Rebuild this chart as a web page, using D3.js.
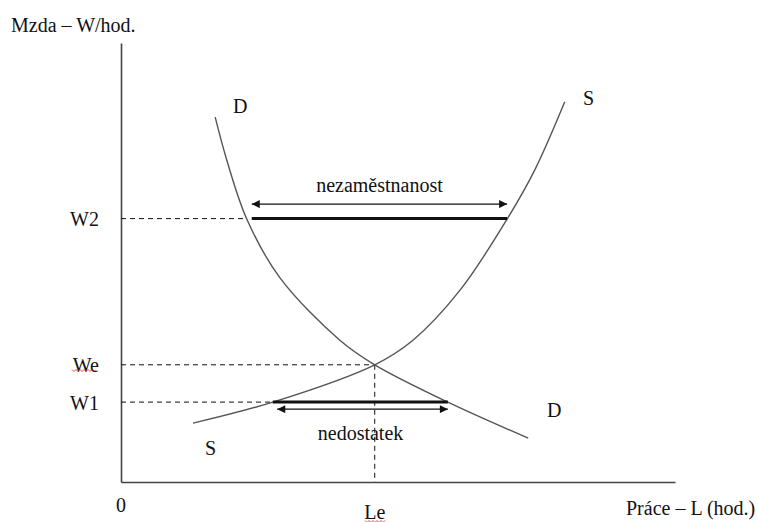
<!DOCTYPE html>
<html lang="cs">
  <head>
    <meta charset="UTF-8" />
    <title>Trh práce – minimální mzda</title>
    <script src="https://d3js.org/d3.v7.min.js"></script>
    <style>
      body {
        margin: 0;
        background: #fff;
      }
      #chart svg {
        display: block;
      }
    </style>
  </head>
  <body>
    <div id="chart"></div>

    <script>
      // Données (unités arbitraires 0–100)
      const wageNames = ["W2", "We", "W1"];
      const wageLevels = [60, 26.7, 18.2];
      const laborName = "Le";
      const laborEq = 45.8;

      // Courbe de demande D
      const demandL = [17.0, 19.1, 22.7, 28.7, 39.5, 45.8, 59.0, 73.5];
      const demandW = [83.1, 73.3, 59.9, 46.5, 32.3, 26.7, 18.2, 10.0];

      // Courbe d'offre S
      const supplyL = [13.0, 27.4, 45.8, 52.7, 61.2, 69.7, 74.7, 80.1];
      const supplyW = [13.4, 18.2, 26.7, 32.3, 43.7, 59.9, 71.1, 86.6];

      // Écarts : [début, fin] sur l'axe L
      const unemploymentGap = [23.6, 69.7]; // à W2
      const unemploymentArrow = [23.6, 69.7];
      const unemploymentArrowW = 63.3;
      const shortageGap = [27.4, 59.0]; // à W1
      const shortageArrow = [28.2, 59.0];
      const shortageArrowW = 16.6;
      // fin des pointillés horizontaux (là où ils touchent la courbe)
      const dashEnds = [22.7, 45.8, 27.4];

      const width = 758,
        height = 522;
      const fontFamily = '"Liberation Serif", "DejaVu Serif", "Times New Roman", serif';
      const fontSize = 20;

      const svg = d3
        .select("#chart")
        .append("svg")
        .attr("width", width)
        .attr("height", height)
        .attr("font-family", fontFamily)
        .attr("font-size", fontSize);

      const x = d3.scaleLinear().domain([0, 100]).range([121, 675]);
      const y = d3.scaleLinear().domain([0, 100]).range([482, 43]);

      // Flèches
      const defs = svg.append("defs");
      ["start", "end"].forEach((k) => {
        defs
          .append("marker")
          .attr("id", "arrow-" + k)
          .attr("viewBox", "0 0 10 10")
          .attr("refX", k === "end" ? 10 : 0)
          .attr("refY", 5)
          .attr("markerWidth", 9)
          .attr("markerHeight", 8)
          .attr("markerUnits", "userSpaceOnUse")
          .attr("orient", "auto")
          .append("path")
          .attr("d", k === "end" ? "M0,0L10,5L0,10Z" : "M10,0L0,5L10,10Z")
          .attr("fill", "#111");
      });

      // Axes (sans graduations)
      svg
        .append("g")
        .attr("transform", `translate(0,${y(0)})`)
        .call(d3.axisBottom(x).tickValues([]).tickSizeOuter(0))
        .select(".domain")
        .attr("stroke", "#444")
        .attr("stroke-width", 1.6);

      const yAxis = svg
        .append("g")
        .attr("transform", `translate(${x(0)},0)`)
        .call(
          d3
            .axisLeft(y)
            .tickValues(wageLevels)
            .tickFormat((d, i) => wageNames[i])
            .tickSize(0)
            .tickPadding(22)
        )
        .attr("font-family", fontFamily)
        .attr("font-size", fontSize);
      yAxis.select(".domain").attr("stroke", "#444").attr("stroke-width", 1.6);
      yAxis.selectAll(".tick text").attr("fill", "#111").attr("dy", "0.35em");

      // Pointillés
      const dashes = svg
        .append("g")
        .attr("stroke", "#111")
        .attr("stroke-width", 1)
        .attr("stroke-dasharray", "5,4");
      wageLevels.forEach((w, i) => {
        dashes
          .append("line")
          .attr("x1", x(0))
          .attr("x2", x(dashEnds[i]))
          .attr("y1", y(w))
          .attr("y2", y(w));
      });
      dashes
        .append("line")
        .attr("x1", x(laborEq))
        .attr("x2", x(laborEq))
        .attr("y1", y(wageLevels[1]))
        .attr("y2", y(0));

      // Courbes D et S
      const line = d3
        .line()
        .x((d) => x(d[0]))
        .y((d) => y(d[1]))
        .curve(d3.curveCatmullRom.alpha(0.5));

      svg
        .append("path")
        .datum(d3.zip(demandL, demandW))
        .attr("d", line)
        .attr("fill", "none")
        .attr("stroke", "#555")
        .attr("stroke-width", 1.4);

      svg
        .append("path")
        .datum(d3.zip(supplyL, supplyW))
        .attr("d", line)
        .attr("fill", "none")
        .attr("stroke", "#555")
        .attr("stroke-width", 1.4);

      // Traits épais
      [
        [unemploymentGap, wageLevels[0]],
        [shortageGap, wageLevels[2]],
      ].forEach(([g, w]) => {
        svg
          .append("line")
          .attr("x1", x(g[0]))
          .attr("x2", x(g[1]))
          .attr("y1", y(w))
          .attr("y2", y(w))
          .attr("stroke", "#111")
          .attr("stroke-width", 3);
      });

      // Flèches doubles
      [
        [unemploymentArrow, unemploymentArrowW],
        [shortageArrow, shortageArrowW],
      ].forEach(([g, w]) => {
        svg
          .append("line")
          .attr("x1", x(g[0]))
          .attr("x2", x(g[1]))
          .attr("y1", y(w))
          .attr("y2", y(w))
          .attr("stroke", "#111")
          .attr("stroke-width", 1.3)
          .attr("marker-start", "url(#arrow-start)")
          .attr("marker-end", "url(#arrow-end)");
      });

      // Textes
      const label = (t, px, py, anchor = "start") =>
        svg
          .append("text")
          .attr("x", px)
          .attr("y", py)
          .attr("text-anchor", anchor)
          .attr("fill", "#111")
          .text(t);

      label("Mzda – W/hod.", 11, 32);
      label("Práce – L (hod.)", 626, 515);
      label("0", x(0), 512, "middle");
      label(laborName, x(laborEq), 519, "middle");
      label("nezaměstnanost", x(d3.mean(unemploymentArrow)), 192, "middle");
      label("nedostatek", x(d3.mean(shortageArrow)) - 2, 440, "middle");
      label("D", 233, 113);
      label("D", 547, 417);
      label("S", 583, 105);
      label("S", 205, 455);

      // Soulignement ondulé (correcteur)
      const squiggle = (x0, x1, y0) => {
        const pts = d3.range(x0, x1 + 0.1, 2).map((px, i) => [px, y0 + (i % 2 ? 1.5 : -0.5)]);
        svg
          .append("path")
          .attr("d", d3.line()(pts))
          .attr("fill", "none")
          .attr("stroke", "#e02020")
          .attr("stroke-width", 0.8);
      };
      squiggle(72, 97, 370);
      squiggle(365, 385, 521);
    </script>
  </body>
</html>
